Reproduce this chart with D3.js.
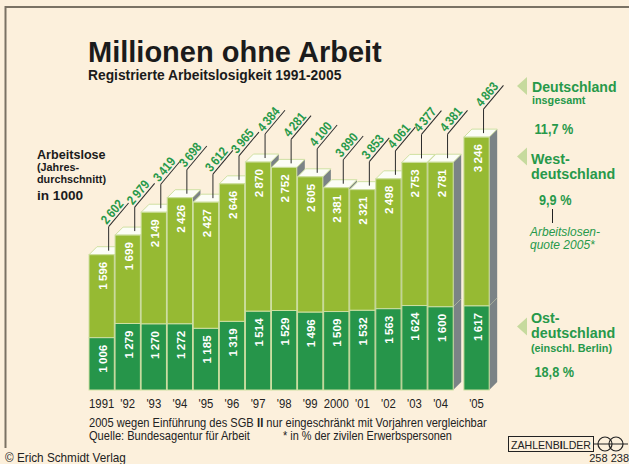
<!DOCTYPE html>
<html>
<head>
<meta charset="utf-8">
<script src="https://cdn.jsdelivr.net/npm/d3@7"></script>
<style>
  html, body { margin: 0; padding: 0; background: #fcf0dc; }
  svg { display: block; font-family: "Liberation Sans", Arial, Helvetica, sans-serif; }
</style>
</head>
<body>
<script>
//-----------------Data----------------

const years = [1991, 1992, 1993, 1994, 1995, 1996, 1997, 1998, 1999, 2000, 2001, 2002, 2003, 2004, 2005];
const yearLabels = ["1991", "'92", "'93", "'94", "'95", "'96", "'97", "'98", "'99", "2000", "'01", "'02", "'03", "'04", "'05"];
const west = [1596, 1699, 2149, 2426, 2427, 2646, 2870, 2752, 2605, 2381, 2321, 2498, 2753, 2781, 3246];
const ost = [1006, 1279, 1270, 1272, 1185, 1319, 1514, 1529, 1496, 1509, 1532, 1563, 1624, 1600, 1617];
const total = [2602, 2979, 3419, 3698, 3612, 3965, 4384, 4281, 4100, 3890, 3853, 4061, 4377, 4381, 4863];
const quotes = ["11,7 %", "9,9 %", "18,8 %"];

//-----------------Setup------------------

const width = 629;
const height = 464;
const base = 390;
const depth = 8;
const barW = 25.3;

const green = "#27994a";
const lightGreen = "#96ba33";
const darkGreen = "#26954a";
const sideGray = "#7b8386";
const edge = "#cfe0a2";

const svg = d3.select("body").append("svg").attr("width", width).attr("height", height);

svg.append("rect").attr("width", width).attr("height", height).attr("fill", "#fcf0dc");

// frame
svg.append("line").attr("x1", 5).attr("x2", width).attr("y1", 7).attr("y2", 7).attr("stroke", "#7a7264").attr("stroke-width", 2);
svg.append("line").attr("x1", 5.5).attr("x2", 5.5).attr("y1", 6).attr("y2", 448).attr("stroke", "#7a7264").attr("stroke-width", 2);

//----------------Scaling-----------------

const y = d3.scaleLinear().domain([0, 5000]).range([base, 130]);
// 2005 stands apart from the rest
const slot = (i) => (i < 14 ? i : i + 0.38);
const x = d3.scaleLinear().domain([0, 1]).range([89, 115.07]);
const fmt = d3.formatLocale({ decimal: ",", thousands: "\u2009", grouping: [3], currency: ["", ""] }).format(",d");

const bars = years.map((yr, i) => ({
  i,
  label: yearLabels[i],
  west: west[i],
  ost: ost[i],
  total: total[i],
  x0: x(slot(i)),
  top: y(total[i]),
  ostTop: y(ost[i]),
}));

//----------------Header-----------------

svg
  .append("text")
  .text("Millionen ohne Arbeit")
  .attr("x", 88)
  .attr("y", 62)
  .attr("font-size", 29)
  .attr("font-weight", "bold")
  .attr("fill", "#1b1b1b");

svg
  .append("text")
  .text("Registrierte Arbeitslosigkeit 1991-2005")
  .attr("x", 88)
  .attr("y", 80)
  .attr("font-size", 13.8)
  .attr("font-weight", "bold")
  .attr("fill", "#1b1b1b");

const unit = svg.append("g").attr("fill", "#1b1b1b").attr("font-weight", "bold");
unit.append("text").text("Arbeitslose").attr("x", 37).attr("y", 159).attr("font-size", 12.6);
unit.append("text").text("(Jahres-").attr("x", 37).attr("y", 171).attr("font-size", 10.8);
unit.append("text").text("durchschnitt)").attr("x", 37).attr("y", 182.5).attr("font-size", 10.8);
unit.append("text").text("in 1000").attr("x", 37).attr("y", 200).attr("font-size", 13.6);

//----------------3D bars-----------------

const bar = svg.selectAll("g.bar").data(bars).enter().append("g").attr("class", "bar");

bar
  .append("polygon")
  .attr("points", (d) => {
    const x1 = d.x0 + barW;
    return [[x1, d.top], [x1 + depth, d.top - depth], [x1 + depth, base - depth], [x1, base]].join(" ");
  })
  .attr("fill", sideGray);

bar
  .append("line")
  .attr("x1", (d) => d.x0 + barW)
  .attr("x2", (d) => d.x0 + barW + depth)
  .attr("y1", (d) => d.ostTop)
  .attr("y2", (d) => d.ostTop - depth)
  .attr("stroke", "#a7ae9c")
  .attr("stroke-width", 1);

bar
  .append("polygon")
  .attr("points", (d) => {
    const x1 = d.x0 + barW;
    return [[d.x0, d.top], [d.x0 + depth, d.top - depth], [x1 + depth, d.top - depth], [x1, d.top]].join(" ");
  })
  .attr("fill", "#fcfdf6")
  .attr("stroke", edge)
  .attr("stroke-width", 1);

bar
  .append("rect")
  .attr("x", (d) => d.x0)
  .attr("y", (d) => d.top)
  .attr("width", barW)
  .attr("height", (d) => d.ostTop - d.top)
  .attr("fill", lightGreen)
  .attr("stroke", edge)
  .attr("stroke-width", 1);

bar
  .append("rect")
  .attr("x", (d) => d.x0)
  .attr("y", (d) => d.ostTop)
  .attr("width", barW)
  .attr("height", (d) => base - d.ostTop)
  .attr("fill", darkGreen)
  .attr("stroke", edge)
  .attr("stroke-width", 1);

// values inside the bars
bar
  .append("text")
  .text((d) => fmt(d.west))
  .attr("transform", (d) => `translate(${d.x0 + barW / 2 + 0.5}, ${d.top + 7}) rotate(-90)`)
  .attr("text-anchor", "end")
  .attr("dominant-baseline", "central")
  .attr("font-size", 11.6)
  .attr("font-weight", "bold")
  .attr("fill", "#ffffff");

bar
  .append("text")
  .text((d) => fmt(d.ost))
  .attr("transform", (d) => `translate(${d.x0 + barW / 2 + 0.5}, ${d.ostTop + 7}) rotate(-90)`)
  .attr("text-anchor", "end")
  .attr("dominant-baseline", "central")
  .attr("font-size", 11.6)
  .attr("font-weight", "bold")
  .attr("fill", "#ffffff");

// totals with leader lines
const leadLen = 28;

bar
  .append("line")
  .attr("x1", (d) => d.x0 + barW / 2 + 7)
  .attr("x2", (d) => d.x0 + barW / 2 + 7)
  .attr("y1", (d) => d.top - 4)
  .attr("y2", (d) => d.top - leadLen)
  .attr("stroke", "#2b2b2b")
  .attr("stroke-width", 1);

const lead = bar.append("g").attr("transform", (d) => `translate(${d.x0 + barW / 2 + 7}, ${d.top - leadLen}) rotate(-50)`);

lead.append("line").attr("x1", 0).attr("x2", 31).attr("y1", 0).attr("y2", 0).attr("stroke", "#2b2b2b").attr("stroke-width", 1);

lead
  .append("text")
  .text((d) => fmt(d.total))
  .attr("x", 0)
  .attr("y", -2.5)
  .attr("font-size", 13)
  .attr("font-weight", "bold")
  .attr("fill", green)
  .attr("transform", "scale(0.86,1)");

// year axis
bar
  .append("text")
  .text((d) => d.label)
  .attr("transform", (d) => `translate(${d.x0 + barW / 2}, 408) scale(0.84,1)`)
  .attr("text-anchor", "middle")
  .attr("font-size", 13.5)
  .attr("fill", "#222");

//-----------Legend--------------

const legend = svg.append("g").attr("fill", green).attr("font-weight", "bold");

[86, 156.5, 326.5].forEach((cy) => {
  legend
    .append("polygon")
    .attr("points", [[517, cy], [527, cy - 9], [527, cy + 9]].join(" "))
    .attr("fill", "#c6da9e");
});

legend.append("text").text("Deutschland").attr("x", 532).attr("y", 92).attr("font-size", 14.1);
legend.append("text").text("insgesamt").attr("x", 532).attr("y", 103.5).attr("font-size", 10.8);
legend.append("text").text(quotes[0]).attr("transform", "translate(534.5,134) scale(0.82,1)").attr("font-size", 15.5);

legend.append("text").text("West-").attr("x", 531).attr("y", 164).attr("font-size", 14.3);
legend.append("text").text("deutschland").attr("x", 531).attr("y", 178.5).attr("font-size", 14.3);
legend.append("text").text(quotes[1]).attr("transform", "translate(539,205) scale(0.82,1)").attr("font-size", 15.5);
legend.append("line").attr("x1", 552.5).attr("x2", 552.5).attr("y1", 209).attr("y2", 223).attr("stroke", "#222").attr("stroke-width", 1);
legend.append("text").text("Arbeitslosen-").attr("x", 530).attr("y", 236).attr("font-size", 12).attr("font-weight", "normal").attr("font-style", "italic");
legend.append("text").text("quote 2005*").attr("x", 530).attr("y", 248.5).attr("font-size", 12).attr("font-weight", "normal").attr("font-style", "italic");

legend.append("text").text("Ost-").attr("x", 531).attr("y", 323).attr("font-size", 14.3);
legend.append("text").text("deutschland").attr("x", 531).attr("y", 337.5).attr("font-size", 14.3);
legend.append("text").text("(einschl. Berlin)").attr("x", 531).attr("y", 352).attr("font-size", 10.8);
legend.append("text").text(quotes[2]).attr("transform", "translate(534.5,377) scale(0.82,1)").attr("font-size", 15.5);

//------------Footer--------------

const foot = svg.append("g").attr("fill", "#222");

// lay pieces side by side, then squeeze the group to the wanted width
function row(parent, pieces, x0, yy, size, fitWidth) {
  const g = parent.append("g");
  let cx = 0;
  pieces.forEach(([txt, bold]) => {
    const t = g.append("text").text(txt).attr("x", cx).attr("y", 0).attr("font-size", size).attr("font-weight", bold ? "bold" : "normal").style("white-space", "pre");
    cx += t.node().getComputedTextLength();
  });
  const k = fitWidth ? fitWidth / cx : 1;
  g.attr("transform", `translate(${x0}, ${yy}) scale(${k}, 1)`);
  return g;
}

row(foot, [["2005 wegen Einführung des SGB ", false], ["II", true], [" nur eingeschränkt mit Vorjahren vergleichbar", false]], 89, 427, 12, 398);
row(foot, [["Quelle: Bundesagentur für Arbeit", false]], 89, 440, 12, 161);
row(foot, [["* in % der zivilen Erwerbspersonen", false]], 283, 440, 12, 169);
row(foot, [["© Erich Schmidt Verlag", false]], 5, 462, 12, 121);

foot.append("text").text("258 238").attr("x", 629).attr("y", 462).attr("text-anchor", "end").attr("font-size", 11);

foot.append("rect").attr("x", 508.5).attr("y", 436.5).attr("width", 85).attr("height", 15).attr("fill", "none").attr("stroke", "#222");
row(foot, [["ZAHLENB", false], ["I", true], ["LDER", false]], 511, 448.5, 11.5, 80);

foot.append("line").attr("x1", 593).attr("x2", 628).attr("y1", 444).attr("y2", 444).attr("stroke", "#222");
[605, 616].forEach((cx) => {
  foot.append("circle").attr("cx", cx).attr("cy", 444).attr("r", 7).attr("fill", "none").attr("stroke", "#222").attr("stroke-width", 1.2);
});
</script>
</body>
</html>
